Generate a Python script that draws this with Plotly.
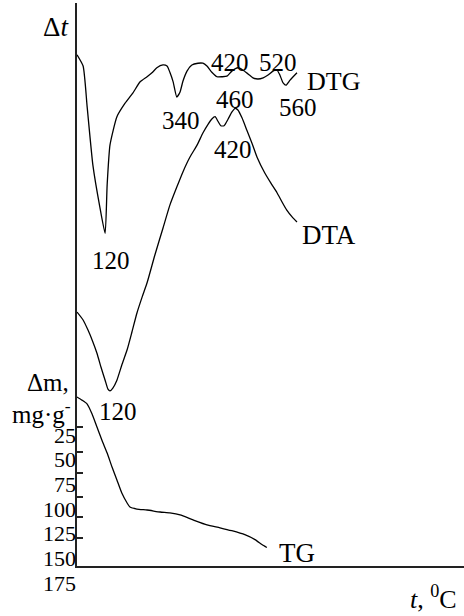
import plotly.graph_objects as go

# Temperature (deg C) and DTG signal (arbitrary units)
T_DTG = [50, 65, 75, 89, 106, 119, 124, 131, 148, 168, 187, 205, 222, 234, 246, 261, 271, 278,
         286, 295, 303, 310, 320, 332, 347, 359, 369, 381, 394, 406, 418, 430, 445, 457, 470,
         482, 494, 507, 519, 531, 541, 548, 556, 563, 573, 590]
DTG = [90.8, 88.8, 81.5, 71.2, 63.8, 59.1, 67.7, 74.8, 79.8, 82.2, 84.0, 86.0, 86.9, 87.6, 88.5,
       89.0, 88.8, 87.7, 86.0, 83.3, 84.2, 86.1, 87.9, 89.0, 89.3, 89.3, 88.8, 87.7, 86.9, 86.9,
       87.0, 87.9, 88.5, 88.1, 87.4, 86.7, 86.5, 86.7, 87.2, 87.9, 88.1, 87.2, 85.8, 85.4, 86.3, 87.6]

# Temperature (deg C) and DTA signal (arbitrary units)
T_DTA = [50, 65, 77, 89, 99, 109, 119, 126, 131, 138, 148, 160, 173, 185, 197, 210, 222, 241,
         261, 278, 295, 310, 327, 345, 359, 372, 381, 389, 396, 403, 411, 421, 430, 438, 445,
         455, 467, 480, 492, 511, 526, 541, 553, 565, 578, 590]
DTA = [45.1, 43.7, 41.9, 39.8, 37.8, 35.3, 33.0, 31.4, 31.1, 31.6, 33.0, 35.7, 38.4, 41.6, 44.9,
       47.8, 50.3, 55.2, 60.0, 64.1, 67.3, 70.0, 72.6, 74.8, 76.9, 78.5, 79.4, 79.8, 79.0, 78.2,
       78.2, 79.4, 80.6, 81.3, 81.0, 79.6, 77.4, 75.0, 72.6, 69.8, 68.0, 66.3, 64.7, 63.2, 62.0, 61.1]

# Temperature (deg C) and TG mass loss (mg/g)
T_TG = [50, 62, 75, 87, 99, 111, 124, 136, 148, 160, 173, 180, 197, 222, 254, 278, 303, 335,
        369, 401, 430, 462, 487, 504, 516]
TG = [-13.5, -10.4, -6.4, 3.7, 16.9, 30.1, 43.3, 57.4, 70.6, 83.8, 93.9, 98.0, 100.0, 101.0,
      103.0, 104.0, 106.0, 111.0, 116.0, 119.0, 122.0, 126.0, 131.0, 136.0, 139.0]

TG_TICK_LABELS = [25, 50, 75, 100, 125, 150, 175]
TG_TICK_MARKS = [17, 42, 63.5, 88, 108, 129]

# Peak labels: (text, temperature, signal)
DTG_PEAKS = [("120", 133, 54.2), ("340", 305, 79.2), ("420", 426, 89.5),
             ("520", 543, 89.5), ("560", 592, 81.5)]
DTA_PEAKS = [("120", 151, 27.5), ("460", 438, 82.8), ("420", 433, 73.9)]

SERIF = "Liberation Serif, Times New Roman, serif"
AX = "#222222"

fig = go.Figure()
curve = dict(color="black", width=1.3, shape="spline", smoothing=0.5)
fig.add_trace(go.Scatter(x=T_DTG, y=DTG, mode="lines", line=curve, xaxis="x", yaxis="y",
                         hoverinfo="skip"))
fig.add_trace(go.Scatter(x=T_DTA, y=DTA, mode="lines", line=curve, xaxis="x", yaxis="y",
                         hoverinfo="skip"))
fig.add_trace(go.Scatter(x=T_TG, y=TG, mode="lines", line=curve, xaxis="x", yaxis="y2",
                         hoverinfo="skip"))

ann = []
for txt, t, v in DTG_PEAKS + DTA_PEAKS:
    ann.append(dict(text=txt, x=t, y=v, xref="x", yref="y", showarrow=False,
                    font=dict(family=SERIF, size=25, color="black")))
ann.append(dict(text="DTG", x=610, y=86, xref="x", yref="y", xanchor="left", showarrow=False,
                font=dict(family=SERIF, size=26, color="black")))
ann.append(dict(text="DTA", x=597, y=58.8, xref="x", yref="y", xanchor="left", showarrow=False,
                font=dict(family=SERIF, size=27, color="black")))
ann.append(dict(text="TG", x=541, y=2.3, xref="x", yref="y", xanchor="left", showarrow=False,
                font=dict(family=SERIF, size=27, color="black")))
ann.append(dict(text="Δ<i>t</i>", x=-0.0155, y=0.96, xref="paper", yref="paper",
                xanchor="right", yanchor="middle", showarrow=False,
                font=dict(family=SERIF, size=27, color="black")))
ann.append(dict(text="Δm,", x=-0.0155, y=0.3635, xref="paper", yref="paper",
                xanchor="right", yanchor="middle", showarrow=False,
                font=dict(family=SERIF, size=25, color="black")))
ann.append(dict(text="mg·g<sup>-</sup>", x=-0.0103, y=0.315, xref="paper", yref="paper",
                xanchor="right", yanchor="middle", showarrow=False,
                font=dict(family=SERIF, size=25, color="black")))
ann.append(dict(text="<i>t</i>, <sup>0</sup>C", x=0.855, y=0.0034, xref="paper", yref="paper",
                xanchor="left", yanchor="middle", showarrow=False,
                font=dict(family=SERIF, size=26, color="black")))

fig.update_layout(
    width=464, height=616,
    margin=dict(l=77, r=0, t=3, b=16, autoexpand=False),
    paper_bgcolor="white", plot_bgcolor="rgba(0,0,0,0)",
    showlegend=False,
    xaxis=dict(domain=[0, 1], range=[50, 1000], anchor="y", showline=True, linecolor=AX,
               linewidth=2, showgrid=False, zeroline=False, showticklabels=False, ticks="",
               automargin=False),
    yaxis=dict(domain=[34 / 597, 1], range=[0, 100], anchor="x", showline=True, linecolor=AX,
               linewidth=2, showgrid=False, zeroline=False, showticklabels=False, ticks="",
               automargin=False),
    yaxis2=dict(domain=[0, 1], range=[192.2, -412.9], anchor="x", showline=False,
                showgrid=False, zeroline=False, tickmode="array", tickvals=TG_TICK_LABELS,
                ticks="", tickfont=dict(family=SERIF, size=22, color="black"),
                automargin=False,
                minor=dict(tickmode="array", tickvals=TG_TICK_MARKS, ticks="inside", ticklen=6,
                           tickwidth=2, tickcolor=AX, showgrid=False)),
    annotations=ann,
)

fig.write_html(
    "out.html",
    config={"displayModeBar": False},
    post_script="document.body.style.margin='0';document.body.style.overflow='hidden';",
)
